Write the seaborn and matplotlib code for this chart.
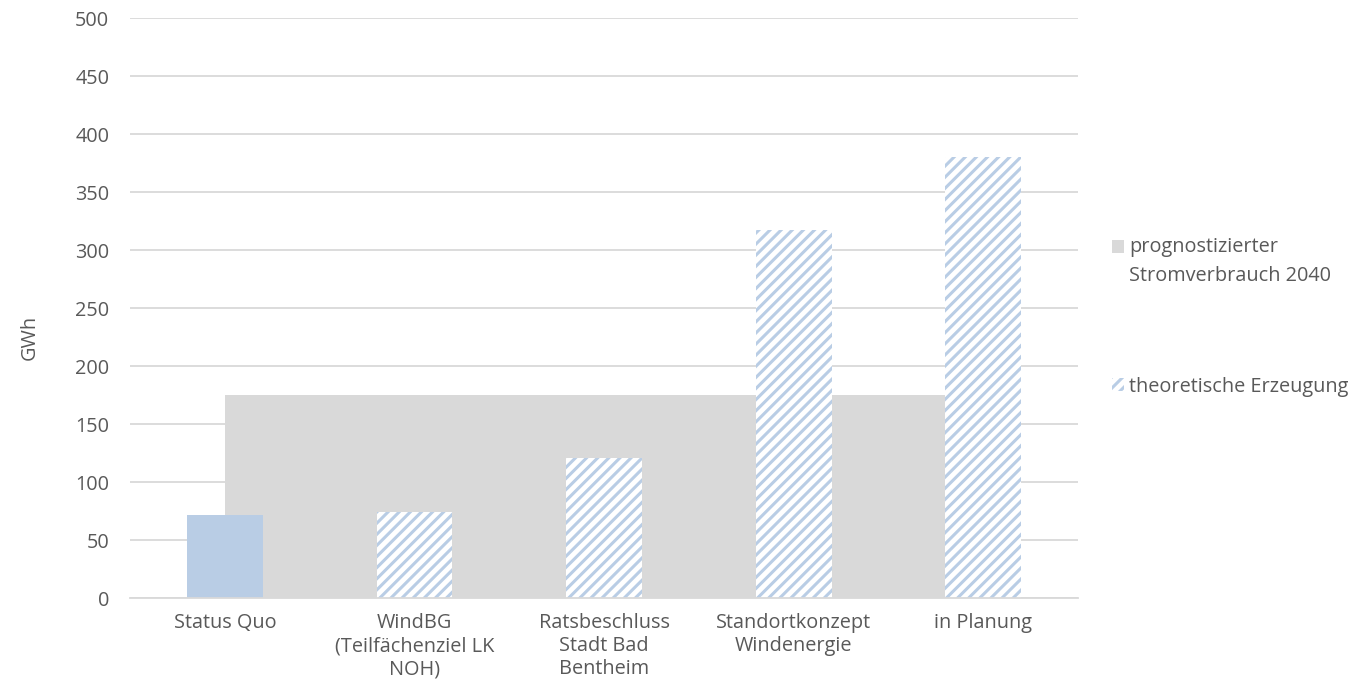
import matplotlib
matplotlib.use("Agg")
import matplotlib.pyplot as plt
from matplotlib.patches import Patch, Rectangle
from matplotlib.legend_handler import HandlerPatch
import seaborn as sns
import pandas as pd

categories = [
    "Status Quo",
    "WindBG\n(Teilfächenziel LK\nNOH)",
    "Ratsbeschluss\nStadt Bad\nBentheim",
    "Standortkonzept\nWindenergie",
    "in Planung",
]
erzeugung = [72, 74, 121, 317, 380]
verbrauch = [175, 175, 175, 175, 175]
y_ticks = [0, 50, 100, 150, 200, 250, 300, 350, 400, 450, 500]

label_verbrauch = "prognostizierter\nStromverbrauch 2040"
label_erzeugung = "theoretische Erzeugung"

BLUE = "#B9CDE5"
GREY = "#D9D9D9"
TEXT = "#595959"
FS = 14.3

sns.set_theme(style="white")
plt.rcParams["font.family"] = ["Open Sans", "DejaVu Sans"]
plt.rcParams["hatch.linewidth"] = 2.2

fig = plt.figure(figsize=(13.59, 6.90), dpi=100)
ax = fig.add_axes([0.0957, 0.1333, 0.6976, 0.8406])

df = pd.DataFrame({"Kategorie": categories, "GWh": erzeugung})

# forecast consumption as a flat area spanning first to last category
ax.fill_between(range(len(categories)), verbrauch, color=GREY, linewidth=0, zorder=1)

sns.barplot(data=df, x="Kategorie", y="GWh", width=0.4, color=BLUE,
            saturation=1, ax=ax, zorder=2)

for i, bar in enumerate(ax.patches):
    bar.set_linewidth(0)
    if i > 0:
        bar.set_facecolor("white")
        bar.set_edgecolor(BLUE)
        bar.set_hatch("///")

ax.set_xlim(-0.5, len(categories) - 0.5)
ax.set_ylim(0, 500)
ax.set_yticks(y_ticks)
ax.yaxis.grid(True, color=GREY, linewidth=1.3)
ax.set_axisbelow(True)
for side in ["top", "right", "left"]:
    ax.spines[side].set_visible(False)
ax.spines["bottom"].set_color(GREY)
ax.spines["bottom"].set_linewidth(1.3)
ax.tick_params(axis="y", length=0, labelsize=FS, labelcolor=TEXT, pad=15)
ax.tick_params(axis="x", length=0, labelsize=FS, labelcolor=TEXT, pad=11)
ax.set_xlabel("")
ax.set_ylabel("GWh", fontsize=FS, color=TEXT)
ax.yaxis.set_label_coords(-0.095, 0.45)
for lbl in ax.get_xticklabels():
    lbl.set_linespacing(1.2)


class TopAlignedHandler(HandlerPatch):
    """Places the legend key level with the first line of a two-line label."""

    def __init__(self, shift=0.0, **kw):
        super().__init__(**kw)
        self.shift = shift

    def create_artists(self, legend, orig_handle, xdescent, ydescent,
                       width, height, fontsize, trans):
        p = Rectangle((-xdescent, -ydescent + self.shift), width, height)
        self.update_prop(p, orig_handle, legend)
        p.set_transform(trans)
        return [p]


h_verbrauch = Patch(facecolor=GREY, edgecolor="none")
h_erzeugung = Patch(facecolor="white", edgecolor=BLUE, hatch="///", linewidth=0)
leg = fig.legend([h_verbrauch, h_erzeugung], [label_verbrauch, label_erzeugung],
                 loc="upper left", bbox_to_anchor=(0.805, 0.682),
                 frameon=False, fontsize=FS, labelcolor=TEXT,
                 handlelength=0.6, handleheight=0.6, handletextpad=0.25,
                 labelspacing=4.55,
                 handler_map={h_verbrauch: TopAlignedHandler(shift=11.5),
                              h_erzeugung: TopAlignedHandler(shift=0.0)})
for t in leg.get_texts():
    t.set_linespacing(1.6)

fig.savefig("out.png", dpi=100)
